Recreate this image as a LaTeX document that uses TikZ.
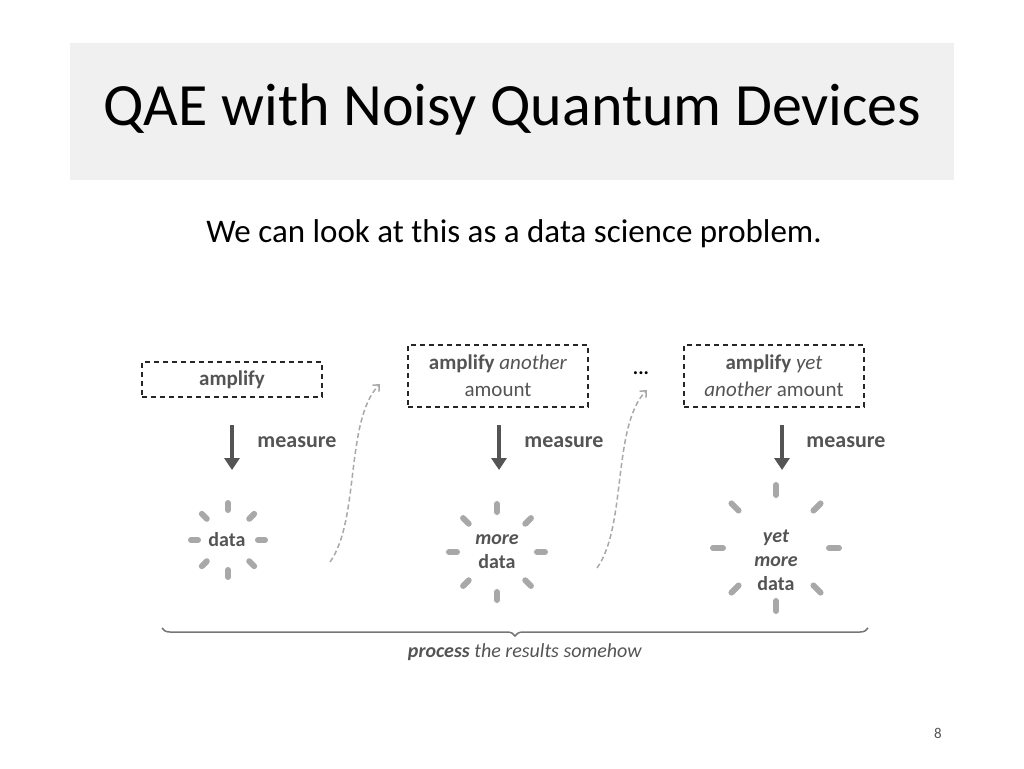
\documentclass[tikz,border=0pt]{standalone}
\usepackage{fontspec}
\setmainfont{Carlito}
\usetikzlibrary{decorations.pathreplacing,arrows.meta,calc}
\definecolor{tg}{gray}{0.94}
\definecolor{dk}{gray}{0.33}
\definecolor{lt}{gray}{0.66}
\tikzset{
 dbox/.style={draw=black!85,dashed,line width=1.2pt,dash pattern=on 5pt off 4pt,minimum width=180pt,align=center,text=dk,font=\fontsize{21}{27}\selectfont},
 marr/.style={draw=dk,line width=3.5pt,-{Triangle[length=12pt,width=15pt]}},
 mlab/.style={text=dk,font=\fontsize{22}{26}\selectfont\bfseries},
 dlab/.style={text=dk,align=center,font=\fontsize{20}{24}\selectfont\bfseries},
 ray/.style={draw=lt,line width=6pt,line cap=round},
 curv/.style={draw=lt,dashed,line width=1.5pt,dash pattern=on 5pt off 3pt,-{Straight Barb[length=5pt,width=9pt]}}
}
\begin{document}
\begin{tikzpicture}[x=1pt,y=-1pt]
\useasboundingbox (0,0) rectangle (1024,768);
\fill[tg] (70,43) rectangle (954,180);
\node[anchor=west,font=\fontsize{60}{70}\selectfont] (title) at (100,110) {QAE with Noisy Quantum Devices};
\node[font=\fontsize{33}{38}\selectfont] (sub) at (514,234) {We can look at this as a data science problem.};
\node[dbox,minimum height=35pt] (b1) at (232,379.5) {\textbf{amplify}};
\node[dbox,minimum height=62pt] (b2) at (498,376) {\textbf{amplify} \textit{another}\\amount};
\node[dbox,minimum height=62pt] (b3) at (774,376) {\textbf{amplify} \textit{yet}\\\textit{another} amount};
\node[font=\fontsize{20}{22}\selectfont\bfseries] (dots) at (641,373) {...};
\coordinate (a1s) at (232,425); \coordinate (a1e) at (232,470);
\coordinate (a2s) at (499,425); \coordinate (a2e) at (499,470);
\coordinate (a3s) at (782,425); \coordinate (a3e) at (782,470);
\draw[marr] (a1s) -- (a1e); \draw[marr] (a2s) -- (a2e); \draw[marr] (a3s) -- (a3e);
\node[mlab] (m1) at (297,442) {measure};
\node[mlab] (m2) at (564,442) {measure};
\node[mlab] (m3) at (846,442) {measure};
\node[dlab] (d1) at (227,540) {data};
\node[dlab] (d2) at (497,552) {\textit{more}\\data};
\node[dlab] (d3) at (776,560) {\textit{yet}\\\textit{more}\\data};
\foreach \a in {0,45,...,315}{
 \draw[ray] ($(228,540)+(\a:30)$) -- ($(228,540)+(\a:37)$);
 \draw[ray] ($(497,552)+(\a:40)$) -- ($(497,552)+(\a:48)$);
 \draw[ray] ($(776,548)+(\a:53)$) -- ($(776,548)+(\a:63)$);
}
\coordinate (c1s) at (330,562); \coordinate (c1e) at (380,384);
\coordinate (c2s) at (597,568); \coordinate (c2e) at (647,390);
\draw[curv] (c1s) .. controls (360,520) and (345,420) .. (c1e);
\draw[curv] (c2s) .. controls (627,526) and (612,426) .. (c2e);
\coordinate (bl) at (162,628); \coordinate (br) at (868,628);
\draw[draw=dk!80,line width=1.5pt,decorate,decoration={brace,mirror,amplitude=8pt,aspect=0.5}] (bl) -- (br);
\node[text=dk,font=\fontsize{20}{24}\selectfont] (proc) at (525,652) {\textbf{\textit{process}} \textit{the results somehow}};
\node[text=dk,font=\fontsize{15}{17}\selectfont] (pg) at (938,733) {8};
\end{tikzpicture}
\end{document}
